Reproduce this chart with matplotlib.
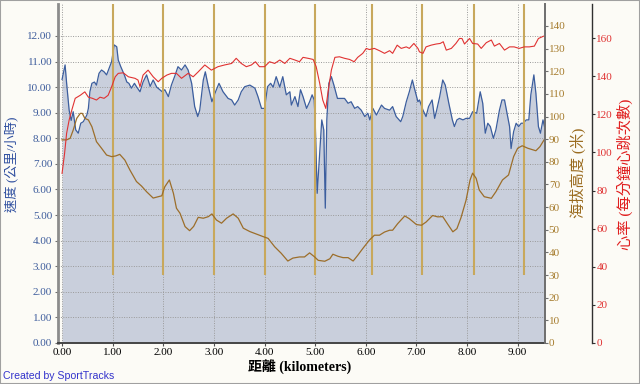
import matplotlib
matplotlib.use("Agg")
import matplotlib.pyplot as plt
from matplotlib.patches import Rectangle

plt.rcParams['font.family'] = ['Liberation Serif', 'Noto Sans CJK TC', 'DejaVu Sans']

# speed (km/h) vs distance (km)
speed_km = [0.00, 0.06, 0.09, 0.14, 0.18, 0.22, 0.27, 0.32, 0.37, 0.42, 0.49, 0.52, 0.55, 0.59,
            0.64, 0.68, 0.73, 0.78, 0.83, 0.88, 0.93, 0.98, 1.03, 1.08, 1.11, 1.16, 1.23, 1.28,
            1.32, 1.37, 1.43, 1.47, 1.54, 1.60, 1.67, 1.74, 1.80, 1.87, 1.93, 1.98, 2.03, 2.10,
            2.16, 2.23, 2.29, 2.36, 2.43, 2.49, 2.56, 2.62, 2.68, 2.72, 2.79, 2.83, 2.89, 2.96,
            3.02, 3.10, 3.18, 3.28, 3.35, 3.41, 3.48, 3.54, 3.61, 3.71, 3.81, 3.87, 3.94, 4.00,
            4.06, 4.12, 4.17, 4.23, 4.30, 4.36, 4.43, 4.50, 4.53, 4.60, 4.66, 4.71, 4.76, 4.83,
            4.89, 4.94, 4.98, 5.00, 5.04, 5.09, 5.13, 5.17, 5.20, 5.23, 5.27, 5.32, 5.37, 5.44,
            5.52, 5.58, 5.65, 5.71, 5.78, 5.84, 5.91, 5.98, 6.04, 6.08, 6.14, 6.21, 6.31, 6.37,
            6.47, 6.53, 6.60, 6.69, 6.73, 6.80, 6.86, 6.92, 6.96, 7.03, 7.06, 7.13, 7.19, 7.24,
            7.31, 7.36, 7.40, 7.46, 7.52, 7.57, 7.64, 7.71, 7.75, 7.80, 7.85, 7.92, 7.98, 8.05,
            8.11, 8.19, 8.26, 8.31, 8.36, 8.41, 8.46, 8.52, 8.57, 8.64, 8.69, 8.74, 8.79, 8.84,
            8.87, 8.92, 8.97, 9.02, 9.07, 9.11, 9.17, 9.22, 9.26, 9.32, 9.36, 9.41, 9.45, 9.50,
            9.53]
speed = [10.3, 10.87, 10.16, 9.1, 8.7, 9.04, 8.33, 8.2, 8.59, 8.65, 8.91, 9.17, 9.82, 10.15,
         10.2, 10.08, 10.54, 10.67, 10.6, 10.48, 10.74, 11.0, 11.65, 11.58, 11.06, 10.8, 10.48, 10.2,
         10.15, 9.96, 10.15, 10.02, 9.82, 10.2, 10.48, 10.03, 10.28, 10.0, 9.9, 9.82, 9.9, 9.63,
         10.08, 10.45, 10.8, 10.67, 10.87, 10.67, 10.15, 9.24, 8.85, 9.1, 10.28, 10.6, 10.02, 9.43,
         9.76, 10.15, 9.82, 9.56, 9.5, 9.3, 9.5, 9.82, 10.02, 10.08, 9.96, 9.63, 9.17, 9.17,
         10.02, 10.15, 10.0, 10.41, 10.0, 10.41, 9.7, 9.82, 9.3, 9.63, 9.24, 9.9, 9.63, 9.17,
         9.43, 9.7, 9.5, 8.72, 5.85, 7.42, 8.72, 8.33, 5.27, 8.72, 10.15, 10.41, 10.08, 9.56,
         9.56, 9.56, 9.37, 9.43, 9.17, 9.24, 9.1, 8.85, 8.98, 8.72, 9.17, 8.91, 9.3, 9.17,
         9.1, 9.24, 8.85, 8.65, 8.85, 9.43, 9.82, 10.28, 9.96, 9.43, 9.5, 9.1, 8.85, 9.24,
         9.5, 8.78, 9.1, 9.63, 10.28, 10.08, 9.37, 8.72, 8.46, 8.72, 8.78, 8.72, 8.78, 8.78,
         9.04, 8.98, 9.82, 9.37, 8.2, 8.59, 8.46, 8.0, 8.33, 9.1, 9.5, 9.5, 8.98, 8.46,
         7.6, 8.26, 8.59, 8.46, 8.59, 8.59, 8.72, 8.72, 9.7, 10.48, 9.76, 8.46, 8.2, 8.72,
         8.46]

# elevation (m)
elev_km = [0.00, 0.09, 0.16, 0.22, 0.29, 0.36, 0.40, 0.45, 0.52, 0.59, 0.68, 0.78, 0.88, 0.98,
           1.06, 1.14, 1.24, 1.34, 1.47, 1.57, 1.67, 1.80, 1.90, 1.97, 2.03, 2.12, 2.20, 2.26,
           2.33, 2.43, 2.52, 2.60, 2.69, 2.79, 2.89, 2.96, 3.05, 3.15, 3.25, 3.38, 3.48, 3.58,
           3.71, 3.84, 3.97, 4.07, 4.20, 4.33, 4.46, 4.56, 4.69, 4.79, 4.89, 4.99, 5.06, 5.19,
           5.29, 5.35, 5.45, 5.55, 5.65, 5.75, 5.84, 5.94, 6.07, 6.17, 6.27, 6.37, 6.47, 6.53,
           6.63, 6.77, 6.86, 7.00, 7.10, 7.19, 7.32, 7.42, 7.52, 7.62, 7.72, 7.80, 7.88, 7.98,
           8.06, 8.11, 8.18, 8.24, 8.34, 8.48, 8.57, 8.70, 8.82, 8.92, 9.00, 9.09, 9.20, 9.36,
           9.44, 9.53]
elev = [89.7, 89.7, 90.4, 94.0, 99.2, 101.4, 101.4, 99.2, 98.5, 95.5, 88.9, 86.0, 83.0, 82.3,
        82.6, 83.3, 80.8, 76.4, 71.3, 69.3, 66.8, 64.0, 64.6, 65.0, 69.0, 72.0, 66.1, 59.5,
        57.3, 51.4, 49.6, 51.5, 55.5, 55.1, 55.8, 57.0, 54.3, 52.9, 55.1, 57.0, 55.1, 50.7,
        49.2, 48.1, 47.0, 46.2, 42.5, 39.6, 36.2, 37.5, 38.0, 38.0, 39.8, 38.0, 36.5, 36.1,
        37.2, 39.2, 38.3, 37.7, 37.7, 36.2, 38.7, 41.7, 45.4, 47.6, 47.6, 49.0, 49.8, 49.8,
        52.7, 56.1, 54.9, 52.3, 52.0, 53.4, 56.3, 55.7, 55.8, 52.4, 49.1, 50.5, 55.3, 63.0,
        72.0, 75.0, 72.7, 67.6, 64.6, 63.9, 66.8, 72.0, 74.2, 82.3, 86.0, 87.1, 86.0, 84.9,
        86.7, 90.0]

# heart rate (bpm)
hr_km = [0.00, 0.05, 0.09, 0.14, 0.19, 0.26, 0.36, 0.45, 0.52, 0.60, 0.68, 0.75, 0.83, 0.91,
         0.98, 1.05, 1.11, 1.21, 1.31, 1.44, 1.50, 1.54, 1.60, 1.70, 1.80, 1.90, 1.97, 2.07,
         2.16, 2.26, 2.36, 2.49, 2.59, 2.69, 2.82, 2.95, 3.08, 3.21, 3.35, 3.44, 3.54, 3.64,
         3.74, 3.82, 3.90, 4.00, 4.10, 4.20, 4.30, 4.40, 4.50, 4.60, 4.69, 4.76, 4.86, 4.96,
         5.02, 5.09, 5.15, 5.21, 5.25, 5.32, 5.39, 5.48, 5.58, 5.68, 5.77, 5.84, 5.94, 6.01,
         6.07, 6.17, 6.27, 6.37, 6.47, 6.53, 6.62, 6.70, 6.80, 6.86, 6.95, 7.03, 7.06, 7.13,
         7.19, 7.29, 7.39, 7.47, 7.53, 7.59, 7.69, 7.78, 7.85, 7.90, 7.95, 8.05, 8.11, 8.21,
         8.28, 8.38, 8.48, 8.54, 8.64, 8.74, 8.84, 8.93, 9.03, 9.13, 9.23, 9.33, 9.41, 9.51]
hr = [89, 99.5, 110, 117, 122, 128.4, 130, 131.8, 129, 128.4, 127.5, 129, 128.4, 130,
      134.5, 139.7, 141.5, 141.8, 139.7, 138.9, 138.0, 134.5, 140.6, 143.2, 139.7, 137.1, 138.9, 140.6,
      141.5, 141.5, 138.9, 141.5, 139.7, 142.3, 145.9, 143.2, 145, 145.9, 146.7, 149.4, 146.7, 145,
      145.9, 147.6, 145, 145, 147.6, 146.7, 148.5, 146.7, 149.4, 148.5, 147.6, 149.9, 149.4, 148.8,
      145, 136.2, 127.5, 123.1, 131, 143.2, 149.9, 150.2, 149.4, 148.8, 147.6, 149.9, 152, 154.6,
      154, 154.6, 153.4, 152, 153.4, 152, 156.3, 154.6, 155.4, 154.6, 157.2, 154.6, 152.8, 152,
      155.4, 156.3, 156.9, 157.2, 158.1, 153.7, 154.6, 157.2, 159.8, 159.8, 156.9, 159.8, 157.2, 156.9,
      154.6, 157.6, 159, 155.8, 157.2, 153.7, 155.4, 155.4, 154.6, 155.4, 155.4, 155.8, 159.8, 161]

# lap markers (km)
laps = [1.0, 2.0, 3.0, 4.0, 5.0, 6.12, 7.11, 8.13, 9.12]

bg = '#FCFBF6'
blue = '#3C5E9E'
brown = '#9C6E2A'
red = '#E03232'

fig = plt.figure(figsize=(6.4, 3.84), dpi=100, facecolor=bg)
ax = fig.add_axes([58/640, 41/384, 487/640, 339/384])
ax.set_facecolor(bg)

ax.fill_between(speed_km, speed, color='#C9CFDC', lw=0)
ax.plot(speed_km, speed, color=blue, lw=0.9)
ax.set_xlim(-0.08, 9.54)
ax.set_ylim(0, 13.25)
ax.set_xticks(range(10))
ax.set_xticklabels([f"{v:.2f}" for v in range(10)])
ax.set_yticks(range(13))
ax.set_yticklabels([f"{v:.2f}" for v in range(13)])
ax.grid(True, color='#9A9A9A', linestyle=(0, (1, 1.5)), lw=0.7)
ax.tick_params(axis='y', length=2.2, pad=2, color='#707070', labelcolor='#3D5C9C', labelsize=8)
ax.tick_params(axis='x', length=2.2, pad=1.5, color='#505050', labelcolor='black', labelsize=8)
ax.spines['top'].set_visible(False)
ax.spines['right'].set_visible(False)
ax.spines['left'].set_color('#8C8C8C')
ax.spines['left'].set_linewidth(2)
ax.spines['bottom'].set_color('#454545')
ax.spines['bottom'].set_linewidth(1.4)

# elevation axis
ax2 = ax.twinx()
ax2.vlines(laps, 30, 150, color='#C8A85C', lw=1.5)
ax2.plot(elev_km, elev, color=brown, lw=0.9)
ax2.set_ylim(0, 149.7)
ax2.set_yticks(range(0, 150, 10))
ax2.tick_params(axis='y', length=2.2, pad=0.5, color='#707070', labelcolor='#A67C2E', labelsize=8)
for s in ['top', 'left', 'bottom']:
    ax2.spines[s].set_visible(False)
ax2.spines['right'].set_color('#6E6E6E')
ax2.spines['right'].set_linewidth(1.4)

# heart rate axis
ax3 = ax.twinx()
ax3.plot(hr_km, hr, color=red, lw=0.8)
ax3.set_ylim(0, 177.9)
ax3.set_yticks(range(0, 161, 20))
ax3.spines['right'].set_position(('axes', (592 - 58) / 487))
ax3.tick_params(axis='y', length=2.2, pad=1, color='#303030', labelcolor=red, labelsize=8)
for s in ['top', 'left', 'bottom']:
    ax3.spines[s].set_visible(False)
ax3.spines['right'].set_color('#303030')
ax3.spines['right'].set_linewidth(1)

fig.text(12/640, 1 - 164/384, "速度 (公里/小時)", rotation=90, ha='center', va='center',
         color='#3050A0', fontsize=9.5)
fig.text(578/640, 1 - 173/384, "海拔高度 (米)", rotation=90, ha='center', va='center',
         color='#9A6B1F', fontsize=11)
fig.text(625/640, 1 - 174/384, "心率 (每分鐘心跳次數)", rotation=90, ha='center', va='center',
         color='#E01E1E', fontsize=11)
fig.text(300/640, 1 - 367/384, "距離 (kilometers)", ha='center', va='center',
         color='black', fontsize=10, fontweight='bold')
fig.text(3/640, 1 - 376/384, "Created by SportTracks", ha='left', va='center',
         color='#3333CC', fontsize=7.6, family='Liberation Sans')

fig.patches.append(Rectangle((0, 0), 1, 1, transform=fig.transFigure, fill=False,
                             edgecolor='#A0A0A0', lw=1.5))

fig.savefig('out.png', dpi=100, facecolor=bg)
